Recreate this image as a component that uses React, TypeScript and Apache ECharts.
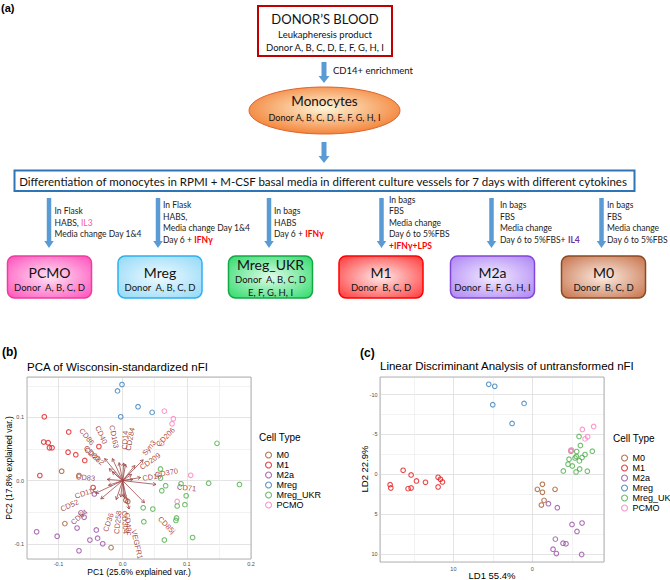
import React, { useEffect, useRef } from 'react';
import * as echarts from 'echarts';

// ---------- data ----------
const cellTypes = ['M0', 'M1', 'M2a', 'Mreg', 'Mreg_UKR', 'PCMO'];

const pcaM0 = [[-0.095, 0.015], [-0.068, 0.008], [0.005, -0.031], [0.008, -0.033], [-0.09, -0.068], [-0.018, -0.106]];
const pcaM1 = [[-0.122, 0.101], [-0.084, 0.077], [-0.123, 0.061], [-0.116, 0.06], [-0.114, 0.052], [-0.11, 0.052], [-0.085, 0.045], [-0.073, 0.041], [-0.037, 0.054], [-0.059, 0.032], [-0.129, 0.008], [-0.046, -0.011]];
const pcaM2a = [[-0.044, -0.021], [-0.065, -0.051], [-0.06, -0.058], [-0.071, -0.075], [-0.134, -0.081], [-0.102, -0.088], [-0.041, -0.078], [-0.039, -0.091], [-0.051, -0.094], [-0.031, -0.1], [-0.068, -0.111]];
const pcaMreg = [[-0.001, 0.152], [-0.008, 0.142], [0.024, 0.117], [0.046, 0.108], [-0.003, 0.101]];
const pcaMregUKR = [[0.147, 0.059], [0.059, 0.0185], [0.059, 0.004], [0.067, -0.008], [0.061, -0.016], [0.091, -0.005], [0.134, -0.004], [0.182, -0.006], [0.099, -0.024], [0.085, -0.04], [0.097, -0.038], [0.032, -0.043], [0.047, -0.045], [0.033, -0.065], [0.084, -0.059], [0.083, -0.063], [0.065, -0.094], [0.109, -0.09]];
const pcaPCMO = [[0.065, 0.11], [0.079, 0.098], [0.077, 0.09], [0.061, 0.059], [0.106, 0.0085], [0.085, -0.033]];
const pcaPoints = [pcaM0, pcaM1, pcaM2a, pcaMreg, pcaMregUKR, pcaPCMO];

const ldaM0 = [[-0.63, 1.89], [-1.27, 1.26], [-1.27, 2.26], [-2.87, 1.89], [-1.48, 3.27], [-1.14, 3.86]];
const ldaM1 = [[18.02, 1.3], [17.93, 1.72], [16.37, -0.5], [15.36, 0.08], [15.74, 1.8], [15.36, 1.72], [14.68, 0.84], [13.54, 1.01], [11.94, 0.38], [11.65, 0.63], [11.39, 0.96], [11.94, 1.59]];
const ldaM2a = [[-2.03, 3.69], [-3.16, 4.19], [-5.02, 6.29], [-6.29, 6.12], [-5.65, 7.17], [-2.91, 8.13], [-3.88, 8.64], [-4.26, 8.72], [-2.62, 9.39], [-3.04, 9.94], [-6.24, 10.06]];
const ldaMreg = [[5.53, -11.28], [4.77, -11.03], [5.02, -8.72], [1.05, -8.89], [2.57, -6.37]];
const ldaMregUKR = [[-5.91, -4.74], [-6.08, -3.61], [-7.59, -2.89], [-4.89, -2.89], [-5.61, -2.85], [-6.67, -2.47], [-5.57, -2.22], [-4.64, -1.89], [-5.4, -2.05], [-6.29, -2.1], [-5.95, -1.68], [-4.51, -1.26], [-5.06, -1.05], [-3.92, -0.42], [-5.53, -0.29], [-5.99, -0.67], [-6.96, -0.38]];
const ldaPCMO = [[-6.33, -5.62], [-7.76, -6.0], [-7.0, -4.7], [-6.67, -4.44], [-4.85, -2.98], [-4.95, -3.05]];
const ldaPoints = [ldaM0, ldaM1, ldaM2a, ldaMreg, ldaMregUKR, ldaPCMO];

const loadingNames = ['CD86', 'CD40', 'CD163', 'CD14', 'CD284', 'CD80', 'CD282', 'Syn3', 'CD206', 'CD209', 'CD370', 'CD16', 'CD71', 'CD85j', 'VEGFR1', 'CD36', 'CD258', 'CD304', 'CD49c', 'CD83', 'CD11c', 'CD52', 'CD64'];
const loadingPC1 = [-0.028, -0.016, -0.0055, 0.0016, 0.0047, -0.021, -0.016, 0.019, 0.032, 0.014, 0.028, 0.016, 0.052, 0.034, 0.01, -0.01, -0.003, 0.0015, 0.0035, -0.024, -0.022, -0.042, -0.034];
const loadingPC2 = [0.035, 0.035, 0.0285, 0.028, 0.026, 0.019, 0.014, 0.024, 0.033, 0.01, 0.005, 0.002, -0.006, -0.035, -0.045, -0.03, -0.026, -0.026, -0.028, 0.002, -0.0074, -0.02, -0.029];

const pcaXTicks = [-0.1, 0, 0.1, 0.2];
const pcaYTicks = [-0.1, 0, 0.1];
const ldaXTicks = [0, 10];
const ldaYTicks = [-10, -5, 0, 5, 10];

const sourceLines = ['DONOR\u2019S BLOOD', 'Leukapheresis product', 'Donor A, B, C, D, E, F, G, H, I'];
const enrichmentLabel = 'CD14+ enrichment';
const monocyteLines = ['Monocytes', 'Donor A, B, C, D, E, F, G, H, I'];
const differentiationText = 'Differentiation of monocytes in RPMI + M-CSF basal media in different culture vessels for 7 days with different cytokines';
const subsetNames = ['PCMO', 'Mreg', 'Mreg_UKR', 'M1', 'M2a', 'M0'];
const subsetDonors = ['Donor  A, B, C, D', 'Donor  A, B, C, D', 'Donor  A, B, C, D\nE, F, G, H, I', 'Donor  B, C, D', 'Donor  E, F, G, H, I', 'Donor  B, C, D'];
const subsetConditions = [
  'In Flask\nHABS, {il3|IL3}\nMedia change Day 1&4',
  'In Flask\nHABS,\nMedia change Day 1&4\nDay 6 + {ifn|IFN\u03b3}',
  'In bags\nHABS\nDay 6 + {ifn|IFN\u03b3}',
  'In bags\nFBS\nMedia change\nDay 6 to 5%FBS\n{ifn|+IFN\u03b3+LPS}',
  'In bags\nFBS\nMedia change\nDay 6 to 5%FBS+ {il4|IL4}',
  'In bags\nFBS\nMedia change\nDay 6 to 5%FBS',
];

// ---------- styles / layout ----------
const cellColors = ['#A65628', '#E41A1C', '#984EA3', '#377EB8', '#4DAF4A', '#F781BF'];
const subsetFill = [
  ['#ffe3f5', '#ff45b8'], ['#effaff', '#8bd6f7'], ['#e0fce9', '#22d862'],
  ['#ffeaea', '#ff2b2b'], ['#f3ecff', '#a87cf4'], ['#fcece3', '#c2683e'],
];
const subsetStroke = ['#ee3c9a', '#2eb0ee', '#14a845', '#ff0000', '#8246d6', '#8a4a22'];
const subsetCx = [49.5, 160, 270.5, 381, 492.5, 603.5];
const arrowX = [49, 158, 269, 381.5, 491.5, 601.5];
const condX = [54.5, 163, 274, 389, 500, 607];
const COND_SIZE = 8.5;
const FLOW_FONT = 'Lato, "Noto Sans", sans-serif';
const PLOT_FONT = '"Liberation Sans", Arial, sans-serif';
const ARROW_BLUE = '#5b9bd5';

function downArrow(cx: number, y0: number, y1: number, shaft: number, head: number, headLen: number) {
  return {
    type: 'polygon',
    shape: {
      points: [
        [cx - shaft / 2, y0], [cx + shaft / 2, y0], [cx + shaft / 2, y1 - headLen], [cx + head / 2, y1 - headLen],
        [cx, y1], [cx - head / 2, y1 - headLen], [cx - shaft / 2, y1 - headLen],
      ],
    },
    style: { fill: ARROW_BLUE },
  };
}

function txt(x: number, y: number, text: string, size: number, extra: any = {}) {
  const { align = 'center', family = FLOW_FONT, weight = 'normal', fill = '#111', rotation = 0, lineHeight, rich } = extra;
  return {
    type: 'text',
    x,
    y,
    rotation,
    z: 100,
    style: {
      text,
      fill,
      fontSize: size,
      fontFamily: family,
      fontWeight: weight,
      align,
      textAlign: align,
      verticalAlign: 'middle',
      textVerticalAlign: 'middle',
      lineHeight,
      rich,
    },
  };
}

function tickFormatter(ticks: number[], digits: number) {
  return (v: number) => {
    const hit = ticks.some((t) => Math.abs(t - v) < 1e-6);
    if (!hit) return '';
    return digits > 0 ? v.toFixed(digits) : String(Math.round(v));
  };
}

function buildOption() {
  const graphics: any[] = [];
  // panel (a)
  graphics.push(txt(1, 8, '(a)', 11, { align: 'left', family: PLOT_FONT, weight: 'bold', fill: '#000' }));
  graphics.push({ type: 'rect', shape: { x: 258, y: 6, width: 134, height: 50 }, style: { fill: '#fff', stroke: '#c00000', lineWidth: 2 } });
  graphics.push(txt(325, 19, sourceLines[0], 13));
  graphics.push(txt(325, 34, sourceLines[1], 9.5));
  graphics.push(txt(325, 47, sourceLines[2], 9.5));
  graphics.push(downArrow(324, 62, 83, 5, 11, 7));
  graphics.push(txt(333, 70, enrichmentLabel, 9.5, { align: 'left' }));
  graphics.push({
    type: 'ellipse',
    shape: { cx: 324.5, cy: 110.5, rx: 75.5, ry: 23.5 },
    style: {
      fill: new echarts.graphic.RadialGradient(0.5, 0.45, 0.6, [
        { offset: 0, color: '#fff6d8' },
        { offset: 1, color: '#f27b2e' },
      ]),
      stroke: '#e0632a',
      lineWidth: 1,
    },
  });
  graphics.push(txt(324.5, 101, monocyteLines[0], 13.5));
  graphics.push(txt(324.5, 117, monocyteLines[1], 9));
  graphics.push(downArrow(324, 142, 163, 5, 11, 7));
  graphics.push({ type: 'rect', shape: { x: 14.5, y: 170.5, width: 620, height: 20.5 }, style: { fill: '#fff', stroke: '#2e75b6', lineWidth: 2 } });
  graphics.push(txt(323, 181, differentiationText, 11.5));
  const richCond = {
    il3: { fill: '#f5609f', fontSize: COND_SIZE, fontFamily: FLOW_FONT },
    ifn: { fill: '#ff0000', fontSize: COND_SIZE, fontFamily: FLOW_FONT, fontWeight: 'bold' },
    il4: { fill: '#7030a0', fontSize: COND_SIZE, fontFamily: FLOW_FONT, fontWeight: 'bold' },
  };
  subsetNames.forEach((name, i) => {
    graphics.push(downArrow(arrowX[i], 198, 248, 4.5, 9.5, 7));
    graphics.push(txt(condX[i], 222.5, subsetConditions[i], COND_SIZE, { align: 'left', lineHeight: 11.5, rich: richCond, fill: '#222' }));
    const x0 = subsetCx[i] - 42;
    graphics.push({
      type: 'rect',
      shape: { x: x0, y: 256, width: 84, height: 42, r: 7 },
      style: {
        fill: new echarts.graphic.RadialGradient(0.5, 0.5, 0.75, [
          { offset: 0, color: subsetFill[i][0] },
          { offset: 1, color: subsetFill[i][1] },
        ]),
        stroke: subsetStroke[i],
        lineWidth: 1.5,
      },
    });
    const twoLine = subsetDonors[i].indexOf('\n') >= 0;
    graphics.push(txt(subsetCx[i], twoLine ? 264 : 272, name, 14));
    graphics.push(txt(subsetCx[i], twoLine ? 285.5 : 287.5, subsetDonors[i], 9.5, { lineHeight: 13 }));
  });

  // panel (b) / (c) texts
  graphics.push(txt(2, 352, '(b)', 12, { align: 'left', family: PLOT_FONT, weight: 'bold', fill: '#000' }));
  graphics.push(txt(360, 353, '(c)', 12, { align: 'left', family: PLOT_FONT, weight: 'bold', fill: '#000' }));
  graphics.push(txt(27, 366.5, 'PCA of Wisconsin-standardized nFI', 11.5, { align: 'left', family: PLOT_FONT, fill: '#000' }));
  graphics.push(txt(380, 366, 'Linear Discriminant Analysis of untransformed nFI', 11.5, { align: 'left', family: PLOT_FONT, fill: '#000' }));
  graphics.push(txt(139, 572, 'PC1 (25.6% explained var.)', 8.5, { family: PLOT_FONT, fill: '#000' }));
  graphics.push(txt(9, 468, 'PC2 (17.8% explained var.)', 8.5, { family: PLOT_FONT, fill: '#000', rotation: Math.PI / 2 }));
  graphics.push(txt(492, 575, 'LD1 55.4%', 9.5, { family: PLOT_FONT, fill: '#000' }));
  graphics.push(txt(364, 469, 'LD2 22.9%', 9.5, { family: PLOT_FONT, fill: '#000', rotation: Math.PI / 2 }));
  graphics.push(txt(259, 437, 'Cell Type', 10, { align: 'left', family: PLOT_FONT, fill: '#000' }));
  graphics.push(txt(613, 438, 'Cell Type', 10, { align: 'left', family: PLOT_FONT, fill: '#000' }));
  graphics.push({ type: 'rect', z: 90, shape: { x: 27, y: 377, width: 224, height: 182 }, style: { fill: 'none', stroke: '#b3b3b3', lineWidth: 1 } });
  graphics.push({ type: 'rect', z: 90, shape: { x: 380, y: 377, width: 224, height: 185 }, style: { fill: 'none', stroke: '#b3b3b3', lineWidth: 1 } });

  const axisLabel = (ticks: number[], digits: number, margin: number) => ({
    formatter: tickFormatter(ticks, digits),
    fontSize: 5.5,
    color: '#4d4d4d',
    fontFamily: PLOT_FONT,
    margin,
  });

  const scatterSeries: any[] = [];
  cellTypes.forEach((name, i) => {
    const base = {
      type: 'scatter',
      name,
      symbol: 'circle',
      symbolSize: 4.6,
      itemStyle: { color: 'rgba(0,0,0,0)', borderColor: cellColors[i], borderWidth: 1.1 },
      z: 3,
    };
    scatterSeries.push({ ...base, xAxisIndex: 0, yAxisIndex: 0, data: pcaPoints[i] });
    scatterSeries.push({ ...base, xAxisIndex: 1, yAxisIndex: 1, data: ldaPoints[i] });
  });

  const loadingSeries = {
    type: 'custom',
    name: 'loadings',
    xAxisIndex: 0,
    yAxisIndex: 0,
    z: 5,
    data: loadingPC1.map((v, i) => [v, loadingPC2[i]]),
    renderItem: (params: any, api: any) => {
      const x = api.value(0);
      const y = api.value(1);
      const o = api.coord([0, 0]);
      const t = api.coord([x, y]);
      const l = api.coord([x * 1.5, y * 1.5]);
      const dx = t[0] - o[0];
      const dy = t[1] - o[1];
      const len = Math.hypot(dx, dy) || 1;
      const ux = dx / len;
      const uy = dy / len;
      const hl = 3.5;
      const c = Math.cos(Math.PI / 6);
      const s = Math.sin(Math.PI / 6);
      const bx = -ux;
      const by = -uy;
      const h1 = [t[0] + hl * (bx * c - by * s), t[1] + hl * (bx * s + by * c)];
      const h2 = [t[0] + hl * (bx * c + by * s), t[1] + hl * (-bx * s + by * c)];
      const name = loadingNames[params.dataIndex];
      const off = 0.25 * name.length * 4.4;
      const rot = Math.abs(dx) < 1e-9 ? Math.PI / 2 : Math.atan(-dy / dx);
      return {
        type: 'group',
        children: [
          { type: 'line', shape: { x1: o[0], y1: o[1], x2: t[0], y2: t[1] }, style: { stroke: '#a04848', lineWidth: 0.8 } },
          { type: 'polyline', shape: { points: [h1, t, h2] }, style: { stroke: '#a04848', fill: 'none', lineWidth: 0.8 } },
          {
            type: 'text',
            x: l[0] + ux * off,
            y: l[1] + uy * off,
            rotation: rot,
            style: {
              text: name,
              fill: '#9e3434',
              fontSize: 7.5,
              fontFamily: PLOT_FONT,
              align: dx >= 0 ? 'left' : 'right',
              verticalAlign: 'middle',
              opacity: 0.9,
            },
          },
        ],
      };
    },
  };

  const legendBase = {
    orient: 'vertical',
    data: cellTypes,
    icon: 'circle',
    itemWidth: 6,
    itemHeight: 6,
    itemGap: 0,
    selectedMode: false,
    itemStyle: { borderWidth: 1.1 },
    textStyle: { fontSize: 9, lineHeight: 10, fontFamily: PLOT_FONT, color: '#000' },
  };

  return {
    animation: false,
    backgroundColor: '#fff',
    textStyle: { fontFamily: PLOT_FONT },
    grid: [
      { left: 27, top: 377, width: 224, height: 182, containLabel: false },
      { left: 380, top: 377, width: 224, height: 185, containLabel: false },
    ],
    xAxis: [
      {
        type: 'value', gridIndex: 0, min: -0.149, max: 0.2, minInterval: 0.05, maxInterval: 0.05,
        axisLine: { show: false }, axisTick: { show: false },
        splitLine: { show: true, lineStyle: { color: ['#efefef', '#dddddd'], width: 0.8 } },
        axisLabel: axisLabel(pcaXTicks, 1, 2),
      },
      {
        type: 'value', gridIndex: 1, inverse: true, min: -9.07, max: 19.3, minInterval: 5, maxInterval: 5,
        axisLine: { show: false }, axisTick: { show: false },
        splitLine: { show: true, lineStyle: { color: ['#dddddd', '#efefef'], width: 0.8 } },
        axisLabel: axisLabel(ldaXTicks, 0, 3.5),
      },
    ],
    yAxis: [
      {
        type: 'value', gridIndex: 0, min: -0.124, max: 0.164, minInterval: 0.05, maxInterval: 0.05,
        axisLine: { show: false }, axisTick: { show: false },
        splitLine: { show: true, lineStyle: { color: ['#efefef', '#dddddd'], width: 0.8 } },
        axisLabel: axisLabel(pcaYTicks, 1, 3),
      },
      {
        type: 'value', gridIndex: 1, inverse: true, min: -12.2, max: 11, minInterval: 2.5, maxInterval: 2.5,
        axisLine: { show: false }, axisTick: { show: false },
        splitLine: { show: true, lineStyle: { color: ['#efefef', '#dddddd'], width: 0.8 } },
        axisLabel: axisLabel(ldaYTicks, 0, 2.5),
      },
    ],
    legend: [
      { ...legendBase, left: 260, top: 445 },
      { ...legendBase, left: 616, top: 448 },
    ],
    series: [...scatterSeries, loadingSeries],
    graphic: { elements: graphics },
  };
}

export default function App() {
  const ref = useRef<HTMLDivElement>(null);
  useEffect(() => {
    document.body.style.margin = '0';
    const chart = echarts.init(ref.current as HTMLDivElement, null, { renderer: 'svg' });
    chart.setOption(buildOption() as any);
    return () => chart.dispose();
  }, []);
  return <div ref={ref} style={{ width: 670, height: 580 }} />;
}
